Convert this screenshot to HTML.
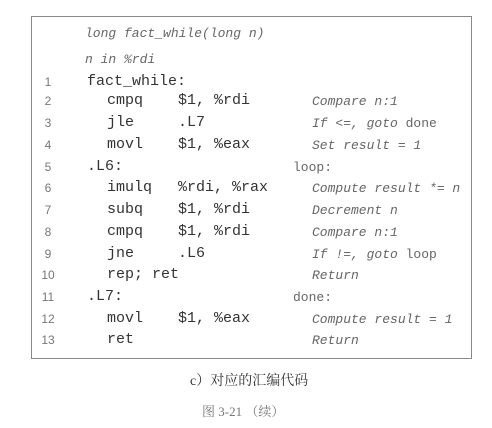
<!DOCTYPE html>
<html><head><meta charset="utf-8"><style>
body{margin:0;width:492px;height:428px;background:#fff;position:relative;overflow:hidden;font-family:"Liberation Mono",monospace;color:#333}
.box{position:absolute;left:31px;top:16px;width:441px;height:343px;border:1px solid #888;box-sizing:border-box}
.t{position:absolute;white-space:pre;line-height:1}
.c{font-size:15px;color:#333}
.i{font-size:13px;font-style:italic;color:#666}
.n{font-size:12px;font-family:"Liberation Sans",sans-serif;color:#777;width:20px;text-align:center}
.cap{position:absolute;font-family:"Liberation Serif","Noto Serif CJK SC",serif;white-space:pre;line-height:1}
</style></head><body>
<div class="box"></div>
<div class="t i" style="left:85px;top:27px">long fact_while(long n)</div>
<div class="t i" style="left:85px;top:53px">n in %rdi</div>

<div class="t n" style="left:38px;top:76px">1</div><div class="t c" style="left:87px;top:74px">fact_while:</div>
<div class="t n" style="left:38px;top:95px">2</div><div class="t c" style="left:107px;top:93px">cmpq</div><div class="t c" style="left:178px;top:93px">$1, %rdi</div><div class="t i" style="left:312px;top:95px">Compare n:1</div>
<div class="t n" style="left:38px;top:117px">3</div><div class="t c" style="left:107px;top:115px">jle</div><div class="t c" style="left:178px;top:115px">.L7</div><div class="t i" style="left:312px;top:117px">If &lt;=, goto <span style="font-style:normal">done</span></div>
<div class="t n" style="left:38px;top:139px">4</div><div class="t c" style="left:107px;top:137px">movl</div><div class="t c" style="left:178px;top:137px">$1, %eax</div><div class="t i" style="left:312px;top:139px">Set result = 1</div>
<div class="t n" style="left:38px;top:161px">5</div><div class="t c" style="left:87px;top:159px">.L6:</div><div class="t i" style="left:293px;top:161px;font-style:normal">loop:</div>
<div class="t n" style="left:38px;top:182px">6</div><div class="t c" style="left:107px;top:180px">imulq</div><div class="t c" style="left:178px;top:180px">%rdi, %rax</div><div class="t i" style="left:312px;top:182px">Compute result *= n</div>
<div class="t n" style="left:38px;top:204px">7</div><div class="t c" style="left:107px;top:202px">subq</div><div class="t c" style="left:178px;top:202px">$1, %rdi</div><div class="t i" style="left:312px;top:204px">Decrement n</div>
<div class="t n" style="left:38px;top:226px">8</div><div class="t c" style="left:107px;top:224px">cmpq</div><div class="t c" style="left:178px;top:224px">$1, %rdi</div><div class="t i" style="left:312px;top:226px">Compare n:1</div>
<div class="t n" style="left:38px;top:248px">9</div><div class="t c" style="left:107px;top:246px">jne</div><div class="t c" style="left:178px;top:246px">.L6</div><div class="t i" style="left:312px;top:248px">If !=, goto <span style="font-style:normal">loop</span></div>
<div class="t n" style="left:38px;top:269px">10</div><div class="t c" style="left:107px;top:267px">rep; ret</div><div class="t i" style="left:312px;top:269px">Return</div>
<div class="t n" style="left:38px;top:291px">11</div><div class="t c" style="left:87px;top:289px">.L7:</div><div class="t i" style="left:293px;top:291px;font-style:normal">done:</div>
<div class="t n" style="left:38px;top:313px">12</div><div class="t c" style="left:107px;top:311px">movl</div><div class="t c" style="left:178px;top:311px">$1, %eax</div><div class="t i" style="left:312px;top:313px">Compute result = 1</div>
<div class="t n" style="left:38px;top:334px">13</div><div class="t c" style="left:107px;top:332px">ret</div><div class="t i" style="left:312px;top:334px">Return</div>

<div class="cap" style="left:190px;top:375px;font-size:14px;color:#333">c）对应的汇编代码</div>
<div class="cap" style="left:202px;top:405px;font-size:13px;color:#777">图 3-21 （续）</div>
</body></html>
